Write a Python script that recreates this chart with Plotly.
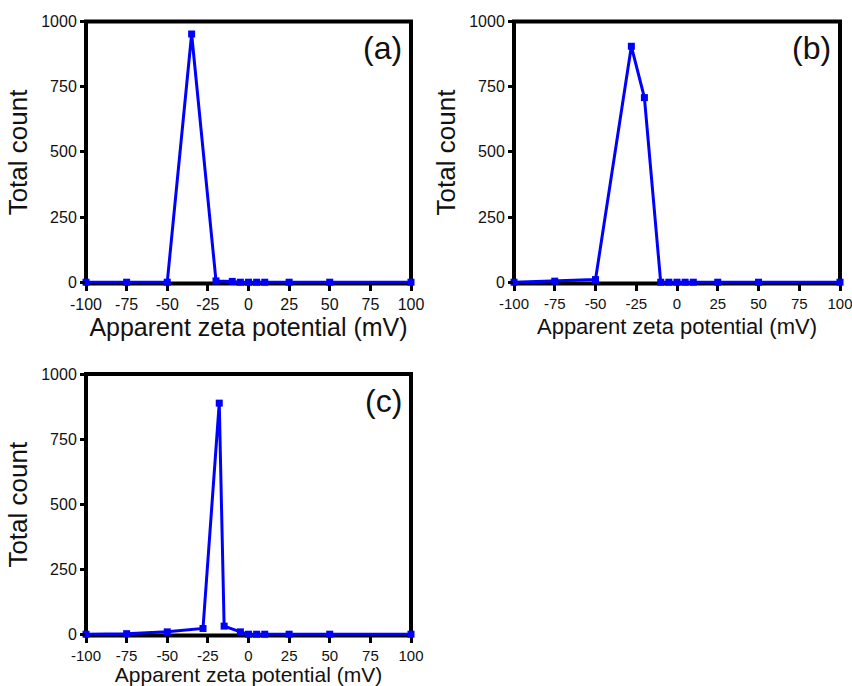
import plotly.graph_objects as go

# Zeta-potential distributions for three samples
zeta_a = [-100, -75, -50, -35, -20, -10, -5, 0, 5, 10, 25, 50, 100]
count_a = [0, 0, 0, 952, 5, 3, 0, 0, 0, 0, 0, 0, 0]

zeta_b = [-100, -75, -50, -28, -20, -10, -5, 0, 5, 10, 25, 50, 100]
count_b = [0, 4, 10, 905, 708, 0, 0, 0, 0, 0, 0, 0, 0]

zeta_c = [-100, -75, -50, -28, -18, -15, -5, 0, 5, 10, 25, 50, 100]
count_c = [0, 2, 9, 22, 888, 31, 9, 0, 0, 0, 0, 0, 0]

x_ticks = [-100, -75, -50, -25, 0, 25, 50, 75, 100]
y_ticks = [0, 250, 500, 750, 1000]
panel_tags = ["(a)", "(b)", "(c)"]

W, H = 852, 686
FONT = "Liberation Sans, Arial, sans-serif"
BLUE = "#0000ff"

# plot-area boxes in pixels: left, right, top, bottom
boxes = [(86, 411, 21.5, 283.5), (514, 840, 21.5, 283.5), (86, 411, 374, 635.5)]
xtick_sizes = [16, 15, 15]
xtitle_sizes = [25, 22, 21]
xtitle_standoff = [3, 8, 9]

fig = go.Figure()
series = [(zeta_a, count_a), (zeta_b, count_b), (zeta_c, count_c)]

for i, ((xs, ys), (l, r, t, b)) in enumerate(zip(series, boxes)):
    n = i + 1
    xa = "xaxis" if n == 1 else f"xaxis{n}"
    ya = "yaxis" if n == 1 else f"yaxis{n}"
    xr = "x" if n == 1 else f"x{n}"
    yr = "y" if n == 1 else f"y{n}"

    fig.add_trace(go.Scatter(
        x=xs, y=ys, xaxis=xr, yaxis=yr, mode="lines+markers",
        line=dict(color=BLUE, width=3),
        marker=dict(symbol="square", size=7, color=BLUE),
        cliponaxis=False, showlegend=False,
    ))

    fig.layout[xa] = dict(
        domain=[l / W, r / W], anchor=yr, range=[-100, 100], automargin=False,
        tickvals=x_ticks, ticktext=[str(v) for v in x_ticks],
        ticks="outside", ticklen=6, tickwidth=3, tickcolor="black",
        ticklabeloverflow="allow",
        showline=False, showgrid=False, zeroline=False,
        tickfont=dict(family=FONT, size=xtick_sizes[i], color="#111"),
        title=dict(text="Apparent zeta potential (mV)", standoff=xtitle_standoff[i],
                   font=dict(family=FONT, size=xtitle_sizes[i], color="#111")),
    )
    fig.layout[ya] = dict(
        domain=[1 - b / H, 1 - t / H], anchor=xr, range=[-5, 1000], automargin=False,
        tickvals=y_ticks, ticktext=[str(v) for v in y_ticks],
        ticks="outside", ticklen=5, tickwidth=3, tickcolor="black",
        showline=False, showgrid=False, zeroline=False,
        tickfont=dict(family=FONT, size=16, color="#111"),
        title=dict(text="Total count", standoff=6,
                   font=dict(family=FONT, size=26, color="#111")),
    )

    # heavy black frame around each panel, under the data
    fig.add_shape(type="rect", xref=f"{xr} domain", yref=f"{yr} domain",
                  x0=0, x1=1, y0=0, y1=1, layer="below",
                  line=dict(color="black", width=4))

    fig.add_annotation(text=panel_tags[i], xref=f"{xr} domain", yref=f"{yr} domain",
                       x=0.978, y=0.975, xanchor="right", yanchor="top",
                       showarrow=False, font=dict(family=FONT, size=32, color="#111"))

fig.update_layout(
    width=W, height=H, margin=dict(l=0, r=0, t=0, b=0),
    paper_bgcolor="white", plot_bgcolor="white",
)

fig.write_html("out.html")
